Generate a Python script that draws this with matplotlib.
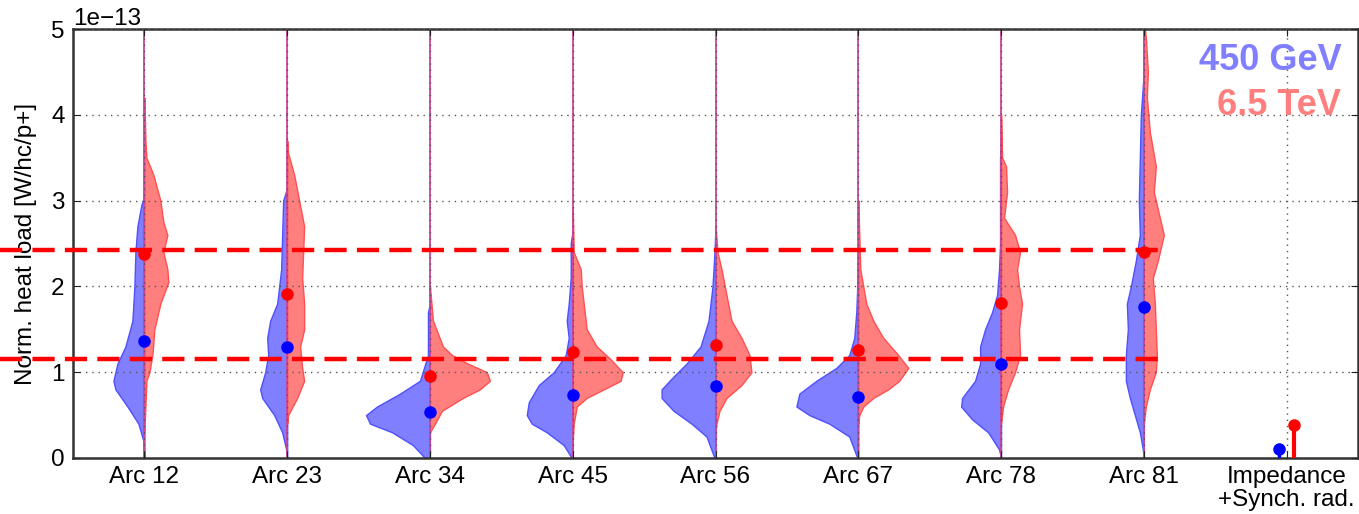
import numpy as np
import matplotlib
matplotlib.use("Agg")
import matplotlib.pyplot as plt

plt.rcParams['font.family'] = ['Liberation Sans', 'DejaVu Sans']
plt.rcParams['font.size'] = 17.5

# categories
labels = ['Arc 12', 'Arc 23', 'Arc 34', 'Arc 45', 'Arc 56', 'Arc 67', 'Arc 78', 'Arc 81',
          'Impedance\n+Synch. rad.']

# means [1e-13 W/hc/p+]
blue_mean = [1.36, 1.29, 0.54, 0.74, 0.84, 0.71, 1.09, 1.76]
red_mean = [2.38, 1.91, 0.96, 1.23, 1.32, 1.26, 1.81, 2.40]

# impedance + synchrotron radiation
imp_blue = 0.11
imp_red = 0.39

# reference levels
ref_levels = [2.42, 1.15]

# violin outlines: heat load levels and density (arb. units)
blue_y = [
    [0.0, 0.2, 0.4, 0.6, 0.8, 0.9, 1.1, 1.3, 1.6, 2.0, 2.4, 2.7, 2.95, 3.05],
    [0.0, 0.1, 0.3, 0.5, 0.7, 0.8, 1.0, 1.2, 1.4, 1.6, 1.8, 2.2, 2.6, 3.0, 3.15],
    [0.0, 0.15, 0.3, 0.4, 0.5, 0.6, 0.75, 0.9, 1.2, 1.7, 1.8],
    [0.0, 0.15, 0.3, 0.4, 0.5, 0.65, 0.85, 1.0, 1.2, 1.4, 1.6, 1.8, 2.1, 2.5, 2.65],
    [0.0, 0.25, 0.4, 0.55, 0.7, 0.8, 0.95, 1.1, 1.3, 1.6, 2.0, 2.4, 2.7],
    [0.0, 0.25, 0.4, 0.5, 0.6, 0.75, 0.9, 1.05, 1.2, 1.4, 1.7, 2.0, 2.4],
    [0.0, 0.1, 0.3, 0.45, 0.6, 0.7, 0.9, 1.1, 1.3, 1.5, 1.7, 1.9, 2.2, 2.5, 3.5, 3.7],
    [0.0, 0.1, 0.3, 0.5, 0.7, 0.9, 1.2, 1.5, 1.8, 2.0, 2.3, 2.6, 3.0, 3.5, 4.0, 4.5],
]
blue_d = [
    [0, 1, 6, 17, 29, 31, 27, 19, 12, 10, 9, 7, 3, 0],
    [0, 1, 5, 13, 25, 27, 22, 19, 20, 17, 10, 6, 5, 4, 0],
    [5, 17, 38, 60, 64, 53, 30, 10, 2, 2, 0],
    [1, 9, 26, 41, 46, 44, 34, 19, 7, 4, 6, 4, 2, 2, 0],
    [1, 9, 24, 42, 54, 54, 42, 29, 15, 7, 3, 1, 0],
    [1, 9, 29, 49, 62, 59, 42, 22, 9, 4, 2, 1, 0],
    [0, 2, 13, 29, 40, 39, 26, 21, 21, 16, 9, 4, 2, 1, 1, 0],
    [0, 1, 4, 9, 14, 18, 18, 16, 17, 13, 8, 4, 5, 4, 3, 0],
]
red_y = [
    [0.3, 0.9, 1.0, 1.2, 1.5, 1.8, 2.05, 2.2, 2.4, 2.6, 2.75, 3.0, 3.3, 3.5, 3.7, 4.2],
    [0.4, 0.5, 0.7, 0.9, 1.05, 1.3, 1.5, 1.8, 2.1, 2.4, 2.7, 3.0, 3.3, 3.55, 3.7],
    [0.3, 0.4, 0.55, 0.7, 0.8, 0.9, 1.0, 1.1, 1.2, 1.3, 1.6, 2.0],
    [0.2, 0.4, 0.6, 0.7, 0.8, 0.9, 1.0, 1.15, 1.3, 1.5, 1.7, 2.0, 2.2, 2.4, 2.9],
    [0.3, 0.4, 0.55, 0.7, 0.85, 1.0, 1.2, 1.4, 1.6, 1.9, 2.2, 2.4, 2.7],
    [0.4, 0.5, 0.6, 0.7, 0.8, 0.9, 1.05, 1.2, 1.4, 1.6, 1.8, 2.0, 2.2, 2.6, 3.0],
    [0.4, 0.6, 0.8, 1.0, 1.2, 1.5, 1.8, 2.0, 2.2, 2.4, 2.6, 2.8, 3.1, 3.4, 3.5, 4.0],
    [0.4, 0.6, 0.8, 1.0, 1.2, 1.5, 1.8, 2.1, 2.3, 2.6, 2.8, 3.1, 3.4, 3.8, 4.2, 4.5, 4.9, 5.0],
]
red_d = [
    [0, 2, 5, 8, 10, 16, 24, 23, 19, 23, 19, 16, 9, 2, 1, 0],
    [0, 1, 10, 17, 15, 13, 17, 17, 15, 16, 17, 12, 7, 1, 0],
    [0, 5, 12, 33, 50, 60, 57, 38, 22, 13, 3, 0],
    [0, 1, 4, 14, 31, 48, 50, 38, 24, 14, 12, 9, 8, 1, 0],
    [0, 1, 4, 11, 26, 36, 34, 26, 16, 11, 6, 2, 0],
    [0, 1, 5, 15, 30, 41, 50, 40, 25, 15, 8, 5, 2, 1, 0],
    [0, 2, 7, 14, 19, 18, 21, 18, 16, 19, 14, 3, 6, 5, 1, 0],
    [0, 2, 6, 12, 13, 12, 11, 9, 14, 20, 16, 10, 12, 6, 3, 4, 2, 1],
]

SCALE = 1e-13
WSCALE = 1.0 / 143  # density -> half width in category units

fig = plt.figure(figsize=(13.59, 5.14), dpi=100)
ax = fig.add_axes([73 / 1359, 1 - 458 / 514, 1285 / 1359, 429 / 514])

pos = np.arange(len(labels))

for i in range(len(blue_y)):
    yb = np.array(blue_y[i]) * SCALE
    wb = np.array(blue_d[i]) * WSCALE
    ax.fill_betweenx(yb, pos[i] - wb, pos[i], facecolor='#7f7fff', edgecolor='#5050ff',
                     lw=1, zorder=1)
    yr = np.array(red_y[i]) * SCALE
    wr = np.array(red_d[i]) * WSCALE
    ax.fill_betweenx(yr, pos[i], pos[i] + wr, facecolor='#ff7f7f', edgecolor='#ff5050',
                     lw=1, zorder=1)
    ax.vlines(pos[i], 0, 5 * SCALE, color='#cc4499', lw=1.3, zorder=1.2)

ax.plot(pos[:8], np.array(blue_mean) * SCALE, 'o', color='#0000ff', ms=8, zorder=4)
ax.plot(pos[:8], np.array(red_mean) * SCALE, 'o', color='#ff0000', ms=8, zorder=4)

# impedance + SR stems
ax.vlines(pos[8] - 0.05, 0, imp_blue * SCALE, color='#0000ff', lw=2.5, zorder=4)
ax.plot(pos[8] - 0.05, imp_blue * SCALE, 'o', color='#0000ff', ms=8, zorder=4, clip_on=False)
ax.vlines(pos[8] + 0.05, 0, imp_red * SCALE, color='#ff0000', lw=3, zorder=4)
ax.plot(pos[8] + 0.05, imp_red * SCALE, 'o', color='#ff0000', ms=8, zorder=4)

for lev in ref_levels:
    ax.plot([-1.01, 7.16], [lev * SCALE, lev * SCALE], color='#ff0000', lw=3.2,
            dashes=(5, 2.3), zorder=3, clip_on=False)

ax.set_xlim(-0.5, 8.5)
ax.set_ylim(0, 5 * SCALE)
ax.set_xticks(pos)
ax.set_xticklabels(labels, linespacing=1.05)
ax.set_yticks(np.arange(0, 6) * SCALE)
ax.set_axisbelow(False)
ax.grid(True, color='#555555', lw=1, dashes=(1, 3.5), zorder=2)
ax.tick_params(direction='in', top=True, right=True, length=5, pad=6, colors='#222222',
               labelcolor='black')
for s in ax.spines.values():
    s.set_color('#333333')
    s.set_linewidth(1.8)
ax.set_ylabel('Norm. heat load [W/hc/p+]', labelpad=10)
ax.yaxis.get_offset_text().set_fontsize(17.5)

ax.text(0.987, 0.904, '450 GeV', transform=ax.transAxes, ha='right', va='baseline',
        color='#7f7fff', fontsize=26, fontweight='bold')
ax.text(0.987, 0.80, '6.5 TeV', transform=ax.transAxes, ha='right', va='baseline',
        color='#ff7f7f', fontsize=26, fontweight='bold')

fig.savefig('out.png', dpi=100)
